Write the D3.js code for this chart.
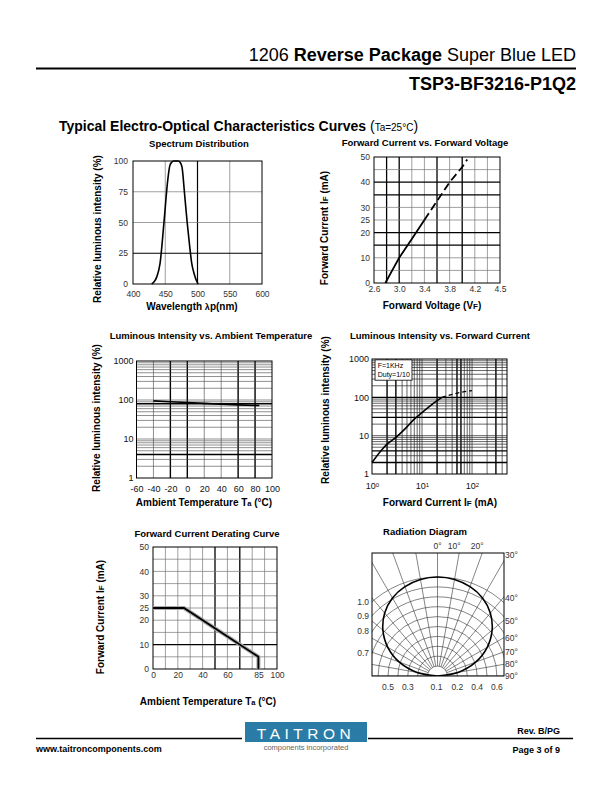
<!DOCTYPE html>
<html><head><meta charset="utf-8">
<script src="https://cdn.jsdelivr.net/npm/d3@7/dist/d3.min.js"></script>
<style>
body{margin:0;background:#fff;}
svg text{font-family:"Liberation Sans",Arial,Helvetica,sans-serif;}
</style></head><body>
<svg id="page" width="612" height="792" xmlns="http://www.w3.org/2000/svg"></svg>
<script>
// ================= DATA =================
// Spectrum Distribution
const spectrumWavelength = [429, 433, 437, 442, 448, 454, 457, 460, 463, 470, 473, 476, 480, 484, 488, 491, 495, 499, 501];
const spectrumIntensity  = [0, 2, 6, 17, 50, 85, 96, 99, 100, 100, 99, 95, 73, 50, 30, 17, 8, 2, 0];
const spectrumXTicks = [400, 450, 500, 550, 600];
const spectrumYTicks = [0, 25, 50, 75, 100];
const spectrumGridX = [450, 500, 550];
const spectrumGridY = [25, 50, 75];
const spectrumBoldX = [500];
const spectrumBoldY = [25];

// Forward Current vs Forward Voltage
const fvVoltageSolid  = [2.78, 2.9, 3.0, 3.2, 3.4];
const fvCurrentSolid  = [0, 5.5, 10, 17.5, 25];
const fvVoltageDashed = [3.4, 3.6, 3.8, 4.0, 4.08];
const fvCurrentDashed = [25, 32.5, 40, 46, 49];
const fvXTicks = [2.6, 3.0, 3.4, 3.8, 4.2, 4.6];
const fvXTickLabels = ["2.6", "3.0", "3.4", "3.8", "4.2", "4.5"];
const fvYTicks = [0, 10, 20, 25, 30, 40, 50];
const fvGridX = [2.8, 3.0, 3.2, 3.4, 3.6, 3.8, 4.0, 4.2, 4.4];
const fvGridY = [5, 10, 15, 20, 25, 30, 35, 40, 45];
const fvBoldX = [2.8, 3.0, 3.6, 4.0];
const fvBoldY = [15, 20, 35, 40];

// Luminous Intensity vs Ambient Temperature
const tempAmbient   = [-40, -20, 0, 20, 40, 60, 85];
const tempIntensity = [95, 90, 86, 82, 78, 75, 72];
const tempXTicks = [-60, -40, -20, 0, 20, 40, 60, 80, 100];
const tempYTicks = [1, 10, 100, 1000];
const tempGridX = [-40, -20, 0, 20, 40, 60, 80];
const tempBoldX = [-20, 0, 60, 80];
const tempGridY = [2,3,4,5,6,7,8,9,10,20,30,40,50,60,70,80,90,100,200,300,400,500,600,700,800,900];
const tempBoldY = [4, 80];

// Luminous Intensity vs Forward Current
const ifCurrentSolid    = [1, 1.5, 2, 3, 5, 7, 10, 15, 20, 25];
const ifIntensitySolid  = [2, 4, 6, 9, 17, 27, 40, 62, 82, 100];
const ifCurrentDashed   = [25, 40, 60, 80, 100];
const ifIntensityDashed = [100, 120, 135, 145, 150];
const ifXTicks = [1, 10, 100];
const ifXExponents = ["0", "1", "2"];
const ifYTicks = [1, 10, 100, 1000];
const ifGridX = [2,3,4,5,6,7,8,9,10,20,30,40,50,60,70,80,90,100,200,300,400];
const ifBoldX = [2, 3, 20, 50, 60, 300];
const ifGridY = [2,3,4,5,6,7,8,9,10,20,30,40,50,60,70,80,90,100,200,300,400,500,600,700,800,900];
const ifBoldY = [2, 4, 30, 100];
const ifLegend = ["F=1KHz", "Duty=1/10"];

// Forward Current Derating Curve
const derTemp    = [0, 25, 85, 85];
const derCurrent = [25, 25, 5, 0];
const derXTicks = [0, 20, 40, 60, 85, 100];
const derYTicks = [0, 10, 20, 25, 30, 40, 50];
const derGridX = [10, 20, 30, 40, 50, 60, 70, 80, 90];
const derGridY = [5, 10, 15, 20, 25, 30, 35, 40, 45];
const derBoldX = [50, 70];
const derBoldY = [10];

// Radiation Diagram
const radAngles    = [-90,-80,-70,-60,-50,-40,-30,-20,-10,0,10,20,30,40,50,60,70,80,90];
const radIntensity = [0,0.21,0.41,0.58,0.72,0.83,0.91,0.96,0.99,1.0,0.99,0.96,0.91,0.83,0.72,0.58,0.41,0.21,0];
const radArcs = [0.1,0.2,0.3,0.4,0.5,0.6,0.7,0.8,0.9,1.0];
const radLeftLabels = [1.0, 0.9, 0.8, 0.7];
const radBottomLabels = ["0.5", "0.3", "0.1", "0.2", "0.4", "0.6"];
const radBottomPos = [-0.5, -0.3, -0.01, 0.2, 0.4, 0.6];
const radTopLabels = [0, 10, 20];
const radRightLabels = [30, 40, 50, 60, 70, 80, 90];

// ================= DRAWING =================
const svg = d3.select("#page");
const SANS = '"Liberation Sans", Arial, Helvetica, sans-serif';
const SERIF = '"Liberation Serif", "Times New Roman", serif';

// ---- Header ----
const hdr = svg.append("text").attr("x", 576).attr("y", 61).attr("text-anchor", "end").attr("font-size", 18);
hdr.append("tspan").text("1206 ");
hdr.append("tspan").attr("font-weight", "bold").text("Reverse Package");
hdr.append("tspan").text(" Super Blue LED");
svg.append("line").attr("x1", 36).attr("x2", 576).attr("y1", 68.5).attr("y2", 68.5).attr("stroke", "#000").attr("stroke-width", 2);
svg.append("text").attr("x", 576).attr("y", 90).attr("text-anchor", "end").attr("font-size", 18).attr("font-weight", "bold").text("TSP3-BF3216-P1Q2");
const sec = svg.append("text").attr("x", 59).attr("y", 131).attr("font-size", 14).attr("font-weight", "bold");
sec.append("tspan").text("Typical Electro-Optical Characteristics Curves ");
sec.append("tspan").attr("font-weight", "normal").text("(");
sec.append("tspan").attr("font-weight", "normal").attr("font-size", 10).text("Ta=25°C");
sec.append("tspan").attr("font-weight", "normal").text(")");

// ---- helpers ----
function chartTitle(x, y, t) {
  svg.append("text").attr("x", x).attr("y", y).attr("text-anchor", "middle")
    .attr("font-size", 9.5).attr("font-weight", "bold").text(t);
}
function richText(sel, parts) {
  parts.forEach(p => { const s = sel.append("tspan").text(p[0]); if (p[1]) s.attr("font-size", p[1]); });
}
function yTitle(x, y, parts) {
  const t = svg.append("text").attr("transform", `translate(${x},${y}) rotate(-90)`)
    .attr("text-anchor", "middle").attr("font-size", 10).attr("font-weight", "bold");
  richText(t, parts);
}
function xTitle(x, y, parts) {
  const t = svg.append("text").attr("x", x).attr("y", y).attr("text-anchor", "middle")
    .attr("font-size", 10).attr("font-weight", "bold");
  richText(t, parts);
}
function grid(g, xs, ys, gx, gy, bx, by, thin, thick, thinW, thickW) {
  const [x0, x1] = xs.range(), [y0, y1] = ys.range();
  g.append("g").selectAll("line").data(gx).join("line")
    .attr("x1", d => xs(d)).attr("x2", d => xs(d)).attr("y1", y0).attr("y2", y1)
    .attr("stroke", d => bx.includes(d) ? thick : thin)
    .attr("stroke-width", d => bx.includes(d) ? thickW : thinW);
  g.append("g").selectAll("line").data(gy).join("line")
    .attr("y1", d => ys(d)).attr("y2", d => ys(d)).attr("x1", x0).attr("x2", x1)
    .attr("stroke", d => by.includes(d) ? thick : thin)
    .attr("stroke-width", d => by.includes(d) ? thickW : thinW);
  g.append("rect").attr("x", x0).attr("y", y1).attr("width", x1 - x0).attr("height", y0 - y1)
    .attr("fill", "none").attr("stroke", "#000").attr("stroke-width", 1);
}
function styleAxis(g, font, size, color) {
  g.select(".domain").remove();
  g.attr("font-family", font).attr("font-size", size).attr("color", color || "#333");
}

// ---- 1. Spectrum Distribution ----
{
  const x = d3.scaleLinear([400, 600], [133, 262]);
  const y = d3.scaleLinear([0, 100], [284, 161]);
  const g = svg.append("g");
  grid(g, x, y, spectrumGridX, spectrumGridY, spectrumBoldX, spectrumBoldY, "#777", "#000", 0.7, 1.2);
  g.append("path").datum(spectrumWavelength.map((w, i) => [w, spectrumIntensity[i]]))
    .attr("fill", "none").attr("stroke", "#000").attr("stroke-width", 1.6)
    .attr("d", d3.line().x(d => x(d[0])).y(d => y(d[1])).curve(d3.curveMonotoneX));
  g.append("g").attr("transform", "translate(133,0)")
    .call(d3.axisLeft(y).tickValues(spectrumYTicks).tickSize(0).tickPadding(5))
    .call(a => styleAxis(a, SANS, 8.5));
  g.append("g").attr("transform", "translate(0,284)")
    .call(d3.axisBottom(x).tickValues(spectrumXTicks).tickSize(0).tickPadding(7))
    .call(a => styleAxis(a, SANS, 8.5));
  chartTitle(199, 146.5, "Spectrum Distribution");
  yTitle(101, 229, [["Relative luminous intensity (%)"]]);
  xTitle(192, 310, [["Wavelength "], ["λ", 9], ["p(nm)"]]);
}

// ---- 2. Forward Current vs Forward Voltage ----
{
  const x = d3.scaleLinear([2.6, 4.6], [374, 500]);
  const y = d3.scaleLinear([0, 50], [283, 157]);
  const g = svg.append("g");
  grid(g, x, y, fvGridX, fvGridY, fvBoldX, fvBoldY, "#777", "#000", 0.7, 1.3);
  const ln = d3.line().x(d => x(d[0])).y(d => y(d[1]));
  g.append("path").datum(fvVoltageSolid.map((v, i) => [v, fvCurrentSolid[i]]))
    .attr("fill", "none").attr("stroke", "#000").attr("stroke-width", 1.8).attr("d", ln);
  g.append("path").datum(fvVoltageDashed.map((v, i) => [v, fvCurrentDashed[i]]))
    .attr("fill", "none").attr("stroke", "#000").attr("stroke-width", 1.8)
    .attr("stroke-dasharray", "8,4").attr("d", ln);
  g.append("g").attr("transform", "translate(374,0)")
    .call(d3.axisLeft(y).tickValues(fvYTicks).tickSize(0).tickPadding(4))
    .call(a => styleAxis(a, SANS, 8.5));
  g.append("g").attr("transform", "translate(0,283)")
    .call(d3.axisBottom(x).tickValues(fvXTicks).tickFormat((d, i) => fvXTickLabels[i]).tickSize(0).tickPadding(3))
    .call(a => styleAxis(a, SANS, 8.5));
  chartTitle(425, 146, "Forward Current vs. Forward Voltage");
  yTitle(328, 228, [["Forward Current I"], ["F", 8], [" (mA)"]]);
  xTitle(432, 309, [["Forward Voltage (V"], ["F", 8], [")"]]);
}

// ---- 3. Luminous Intensity vs Ambient Temperature ----
{
  const x = d3.scaleLinear([-60, 100], [136.5, 272]);
  const y = d3.scaleLog([1, 1000], [478, 361]);
  const g = svg.append("g");
  grid(g, x, y, tempGridX, tempGridY, tempBoldX, tempBoldY, "#444", "#000", 0.6, 1.4);
  g.append("path").datum(tempAmbient.map((t, i) => [t, tempIntensity[i]]))
    .attr("fill", "none").attr("stroke", "#000").attr("stroke-width", 1.6)
    .attr("d", d3.line().x(d => x(d[0])).y(d => y(d[1])));
  g.append("g").attr("transform", "translate(136.5,0)")
    .call(d3.axisLeft(y).tickValues(tempYTicks).tickFormat(d => String(d)).tickSize(0).tickPadding(3))
    .call(a => styleAxis(a, SERIF, 9, "#111"));
  g.append("g").attr("transform", "translate(0,478)")
    .call(d3.axisBottom(x).tickValues(tempXTicks).tickFormat(d => String(d)).tickSize(0).tickPadding(8))
    .call(a => styleAxis(a, SERIF, 9, "#111"));
  chartTitle(211, 339, "Luminous Intensity vs. Ambient Temperature");
  yTitle(100, 418, [["Relative luminous intensity (%)"]]);
  xTitle(204, 506, [["Ambient Temperature T"], ["a", 7.5], [" (°C)"]]);
}

// ---- 4. Luminous Intensity vs Forward Current ----
{
  const x = d3.scaleLog([1, 500], [372, 507]);
  const y = d3.scaleLog([1, 1000], [474, 359]);
  const g = svg.append("g");
  grid(g, x, y, ifGridX, ifGridY, ifBoldX, ifBoldY, "#222", "#000", 0.7, 1.4);
  const ln = d3.line().x(d => x(d[0])).y(d => y(d[1])).curve(d3.curveMonotoneX);
  g.append("path").datum(ifCurrentSolid.map((c, i) => [c, ifIntensitySolid[i]]))
    .attr("fill", "none").attr("stroke", "#000").attr("stroke-width", 1.6).attr("d", ln);
  g.append("path").datum(ifCurrentDashed.map((c, i) => [c, ifIntensityDashed[i]]))
    .attr("fill", "none").attr("stroke", "#000").attr("stroke-width", 1.3)
    .attr("stroke-dasharray", "4,3").attr("d", ln);
  // legend box
  const lg = g.append("g");
  lg.append("rect").attr("x", x(1.15)).attr("y", y(950)).attr("width", x(6.3) - x(1.15)).attr("height", y(280) - y(950))
    .attr("fill", "#fff").attr("stroke", "#000").attr("stroke-width", 0.8);
  lg.selectAll("text").data(ifLegend).join("text")
    .attr("x", x(1.3)).attr("y", (d, i) => y(950) + 8 + i * 9)
    .attr("font-family", SERIF).attr("font-size", 7).text(d => d);
  g.append("g").attr("transform", "translate(372,0)")
    .call(d3.axisLeft(y).tickValues(ifYTicks).tickFormat(d => String(d)).tickSize(0).tickPadding(3))
    .call(a => styleAxis(a, SERIF, 9, "#111"));
  const xa = g.append("g").attr("transform", "translate(0,474)")
    .call(d3.axisBottom(x).tickValues(ifXTicks).tickFormat(() => "").tickSize(0).tickPadding(9))
    .call(a => styleAxis(a, SERIF, 9, "#111"));
  xa.selectAll(".tick text").each(function (d, i) {
    const t = d3.select(this);
    t.append("tspan").text("10");
    t.append("tspan").attr("dy", "-0.45em").attr("font-size", 6).text(ifXExponents[i]);
  });
  chartTitle(440, 339, "Luminous Intensity vs. Forward Current");
  yTitle(329, 410, [["Relative luminous intensity (%)"]]);
  xTitle(440, 506, [["Forward Current I"], ["F", 8], [" (mA)"]]);
}

// ---- 5. Forward Current Derating Curve ----
{
  const x = d3.scaleLinear([0, 100], [153, 277]);
  const y = d3.scaleLinear([0, 50], [669, 547]);
  const g = svg.append("g");
  grid(g, x, y, derGridX, derGridY, derBoldX, derBoldY, "#777", "#000", 0.7, 1.3);
  const ln = d3.line().x(d => x(d[0])).y(d => y(d[1]));
  const pts = derTemp.map((t, i) => [t, derCurrent[i]]);
  g.append("path").datum(pts).attr("fill", "none").attr("stroke", "#aaa").attr("stroke-width", 4).attr("d", ln);
  g.append("path").datum(pts).attr("fill", "none").attr("stroke", "#000").attr("stroke-width", 1.8).attr("d", ln);
  g.append("g").attr("transform", "translate(153,0)")
    .call(d3.axisLeft(y).tickValues(derYTicks).tickSize(0).tickPadding(4))
    .call(a => styleAxis(a, SANS, 8.5));
  g.append("g").attr("transform", "translate(0,669)")
    .call(d3.axisBottom(x).tickValues(derXTicks).tickSize(0).tickPadding(3))
    .call(a => styleAxis(a, SANS, 8.5));
  chartTitle(207, 536.5, "Forward Current Derating Curve");
  yTitle(104, 617, [["Forward Current I"], ["F", 8], [" (mA)"]]);
  xTitle(208, 705, [["Ambient Temperature T"], ["a", 7.5], [" (°C)"]]);
}

// ---- 6. Radiation Diagram ----
{
  const bx0 = 372, bx1 = 504, by0 = 553, by1 = 676;
  const cx = 437.5, cy = 676;
  const r = d3.scaleLinear([0, 1], [0, 99]);
  const rad = a => a * Math.PI / 180;
  const defs = svg.append("defs");
  defs.append("clipPath").attr("id", "radclip").append("rect")
    .attr("x", bx0).attr("y", by0).attr("width", bx1 - bx0).attr("height", by1 - by0);
  const g = svg.append("g");
  const inner = g.append("g").attr("clip-path", "url(#radclip)");
  const c = inner.append("g").attr("transform", `translate(${cx},${cy})`);
  // concentric arcs
  c.selectAll("path.arc").data(radArcs).join("path").attr("class", "arc")
    .attr("fill", "none").attr("stroke", "#333").attr("stroke-width", 0.6)
    .attr("d", d => { const p = d3.path(); p.arc(0, 0, r(d), Math.PI, 2 * Math.PI); return p.toString(); });
  // radial lines
  const radial = d3.lineRadial().angle(d => rad(d[0])).radius(d => d[1]);
  c.selectAll("path.ray").data(radAngles).join("path").attr("class", "ray")
    .attr("fill", "none").attr("stroke", "#333").attr("stroke-width", 0.6)
    .attr("d", a => radial([[a, r(0.1)], [a, r(2)]]));
  // lobe
  c.append("path").datum(radAngles.map((a, i) => [a, radIntensity[i]]))
    .attr("fill", "none").attr("stroke", "#000").attr("stroke-width", 1.6)
    .attr("d", d3.lineRadial().angle(d => rad(d[0])).radius(d => r(d[1])).curve(d3.curveCardinal));
  g.append("rect").attr("x", bx0).attr("y", by0).attr("width", bx1 - bx0).attr("height", by1 - by0)
    .attr("fill", "none").attr("stroke", "#000").attr("stroke-width", 1);
  const halfW = cx - bx0;
  const lab = { "font-family": SANS, "font-size": 8.5, fill: "#333" };
  const applyLab = s => { Object.entries(lab).forEach(([k, v]) => s.attr(k, v)); return s; };
  applyLab(g.append("g").selectAll("text").data(radLeftLabels).join("text")
    .attr("x", 369).attr("y", d => cy - Math.sqrt(r(d) ** 2 - halfW ** 2))
    .attr("text-anchor", "end").attr("dominant-baseline", "central").text(d => d.toFixed(1)));
  applyLab(g.append("g").selectAll("text").data(radBottomLabels).join("text")
    .attr("x", (d, i) => cx + r(radBottomPos[i])).attr("y", 690)
    .attr("text-anchor", "middle").text(d => d));
  applyLab(g.append("g").selectAll("text").data(radTopLabels).join("text")
    .attr("x", d => cx + (cy - by0) * Math.tan(rad(d)) - (d > 0 ? 5 : 0)).attr("y", 549)
    .attr("text-anchor", "middle").text(d => d + "°"));
  applyLab(g.append("g").selectAll("text").data(radRightLabels).join("text")
    .attr("x", 505).attr("y", d => Math.min(cy - halfW / Math.tan(rad(d)), d <= 30 ? by0 + 2 : 1e9))
    .attr("dominant-baseline", "central").text(d => d + "°"));
  chartTitle(425, 535, "Radiation Diagram");
}

// ---- Footer ----
svg.append("line").attr("x1", 36).attr("x2", 242).attr("y1", 738.5).attr("y2", 738.5).attr("stroke", "#000").attr("stroke-width", 1.5);
svg.append("line").attr("x1", 368).attr("x2", 573).attr("y1", 738.5).attr("y2", 738.5).attr("stroke", "#000").attr("stroke-width", 1.5);
svg.append("rect").attr("x", 245).attr("y", 722).attr("width", 122).attr("height", 20).attr("fill", "#2a7ca6");
svg.append("text").attr("x", 306).attr("y", 738.5).attr("text-anchor", "middle").attr("font-size", 15.5)
  .attr("letter-spacing", 4.5).attr("fill", "#fff").text("TAITRON");
svg.append("text").attr("x", 306).attr("y", 750).attr("text-anchor", "middle").attr("font-size", 7.5)
  .attr("fill", "#666").text("components incorporated");
svg.append("text").attr("x", 36).attr("y", 752).attr("font-size", 9).attr("font-weight", "bold").text("www.taitroncomponents.com");
svg.append("text").attr("x", 560).attr("y", 734).attr("text-anchor", "end").attr("font-size", 9).attr("font-weight", "bold").text("Rev. B/PG");
svg.append("text").attr("x", 560).attr("y", 753).attr("text-anchor", "end").attr("font-size", 9).attr("font-weight", "bold").text("Page 3 of 9");
</script>
</body></html>
